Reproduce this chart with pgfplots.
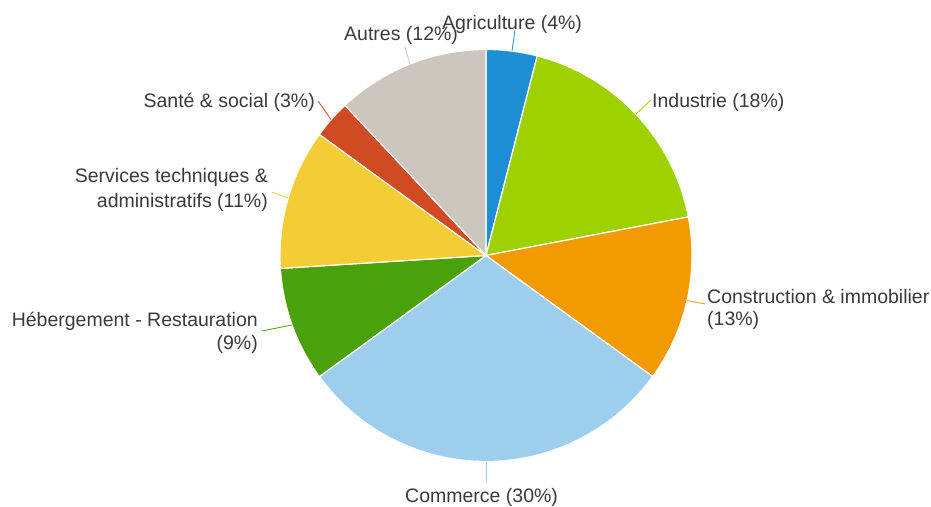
\documentclass[border=0pt]{standalone}
\usepackage{pgfplots}
\usepackage{pgfplotstable}
\pgfplotsset{compat=1.18}
\usepackage{fontspec}
\setmainfont{Liberation Sans}
\definecolor{c0}{HTML}{1E8ED4}
\definecolor{c1}{HTML}{9FD000}
\definecolor{c2}{HTML}{F29A00}
\definecolor{c3}{HTML}{9ECEEE}
\definecolor{c4}{HTML}{4BA10A}
\definecolor{c5}{HTML}{F4CC33}
\definecolor{c6}{HTML}{D04A24}
\definecolor{c7}{HTML}{CCC6BD}
\definecolor{txt}{HTML}{3A3A3A}
\newcommand{\lblfont}{\fontsize{19.5bp}{23bp}\selectfont}
\tikzset{lbl/.style={font=\lblfont, text=txt, inner sep=0pt}}
\pgfplotstableread[col sep=comma]{
label,value
Agriculture,4
Industrie,18
Construction,13
Commerce,30
Hebergement,9
Services,11
Sante,3
Autres,12
}\pietable
\begin{document}
\begin{tikzpicture}
\begin{axis}[
  scale only axis, width=931bp, height=507bp,
  xmin=0, xmax=931, ymin=0, ymax=507,
  hide axis, clip=false,
]
\addplot[draw=none] coordinates {(0,0) (931,507)};
\def\startang{90}
\pgfplotsforeachungrouped \i in {0,...,7} {
  \pgfplotstablegetelem{\i}{value}\of\pietable
  \pgfmathsetmacro\endang{\startang - 3.6*\pgfplotsretval}
  \edef\temp{\noexpand\fill[c\i, draw=white, line width=1.2bp, line join=round]
    (axis cs:486,251.5) -- ++(\startang:206bp) arc[start angle=\startang, end angle=\endang, radius=206bp] -- cycle;}
  \temp
  \global\let\startang\endang
}
% leader lines
\draw[c0, line width=0.8bp] (axis cs:512,456) -- (axis cs:515,477);
\draw[c1, line width=0.8bp] (axis cs:636,393) -- (axis cs:651,407);
\draw[c2, line width=0.8bp] (axis cs:687,206.5) -- (axis cs:705,203);
\draw[c3, line width=0.8bp] (axis cs:486,45) -- (axis cs:486,25);
\draw[c4, line width=0.8bp] (axis cs:292,182) -- (axis cs:262,176);
\draw[c5, line width=0.8bp] (axis cs:288,309) -- (axis cs:272,315);
\draw[c6, line width=0.8bp] (axis cs:331,387.5) -- (axis cs:318,406);
\draw[c7, line width=0.8bp] (axis cs:410,443) -- (axis cs:405,460);
% labels
\node[lbl, anchor=base west] at (axis cs:442,477) {Agriculture (4\%)};
\node[lbl, anchor=base west] at (axis cs:344,466) {Autres (12\%)};
\node[lbl, anchor=base west] at (axis cs:652,399) {Industrie (18\%)};
\node[lbl, anchor=base west] at (axis cs:707,203) {Construction \& immobilier};
\node[lbl, anchor=base west] at (axis cs:707,181) {(13\%)};
\node[lbl, anchor=base west] at (axis cs:405,5) {Commerce (30\%)};
\node[lbl, anchor=base east] at (axis cs:258,180) {Hébergement - Restauration};
\node[lbl, anchor=base east] at (axis cs:258,157) {(9\%)};
\node[lbl, anchor=base east] at (axis cs:268,324) {Services techniques \&};
\node[lbl, anchor=base east] at (axis cs:268,299) {administratifs (11\%)};
\node[lbl, anchor=base east] at (axis cs:315,399) {Santé \& social (3\%)};
\end{axis}
\end{tikzpicture}
\end{document}
